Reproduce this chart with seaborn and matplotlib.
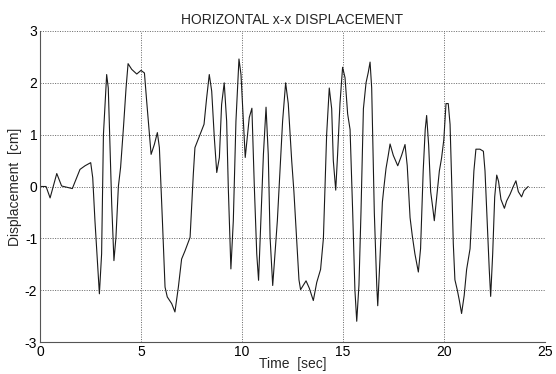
import matplotlib
matplotlib.use("Agg")
import matplotlib.pyplot as plt
import seaborn as sns
import pandas as pd

time_s = [0, 0.30, 0.50, 0.83, 1.07, 1.60, 1.98, 2.23, 2.51, 2.61, 2.72, 2.94, 3.05, 3.14, 3.30, 3.38,
          3.55, 3.66, 3.76, 3.88, 3.99, 4.13, 4.26, 4.36, 4.54, 4.79, 5.0, 5.17, 5.28, 5.50, 5.66, 5.81,
          5.91, 6.06, 6.19, 6.30, 6.52, 6.68, 6.85, 7.01, 7.18, 7.43, 7.59, 7.67, 7.92, 8.12, 8.25, 8.38,
          8.50, 8.63, 8.75, 8.88, 8.99, 9.12, 9.24, 9.32, 9.45, 9.57, 9.70, 9.85, 9.95, 10.07, 10.16,
          10.26, 10.36, 10.49, 10.61, 10.73, 10.82, 10.92, 11.06, 11.19, 11.30, 11.39, 11.52, 11.63,
          11.75, 11.88, 12.01, 12.16, 12.29, 12.46, 12.57, 12.70, 12.82, 12.90, 13.04, 13.17, 13.33,
          13.53, 13.70, 13.89, 14.03, 14.19, 14.32, 14.44, 14.52, 14.64, 14.73, 14.85, 14.98, 15.10,
          15.23, 15.35, 15.48, 15.59, 15.68, 15.79, 15.89, 16.01, 16.14, 16.25, 16.34, 16.42, 16.55,
          16.67, 16.72, 16.83, 16.95, 17.03, 17.13, 17.24, 17.33, 17.49, 17.71, 17.90, 18.07, 18.18,
          18.32, 18.43, 18.56, 18.73, 18.84, 18.97, 19.07, 19.14, 19.24, 19.34, 19.44, 19.52, 19.64,
          19.77, 19.88, 19.99, 20.10, 20.21, 20.30, 20.38, 20.46, 20.54, 20.66, 20.76, 20.87, 21.0,
          21.12, 21.29, 21.38, 21.48, 21.58, 21.78, 21.95, 22.03, 22.14, 22.24, 22.31, 22.41, 22.51,
          22.61, 22.70, 22.82, 22.99, 23.10, 23.27, 23.43, 23.56, 23.68, 23.84, 23.96, 24.17]

disp_cm = [0, 0, -0.22, 0.25, 0.01, -0.04, 0.33, 0.40, 0.46, 0.17, -0.66, -2.07, -1.3, 1.0, 2.16, 1.9,
           -0.34, -1.43, -0.98, 0, 0.37, 1.13, 1.9, 2.37, 2.26, 2.17, 2.24, 2.19, 1.65, 0.62, 0.81, 1.04,
           0.75, -0.66, -1.94, -2.13, -2.26, -2.42, -1.94, -1.40, -1.24, -0.98, 0.24, 0.75, 1.0, 1.2, 1.71, 2.16,
           1.84, 0.94, 0.27, 0.56, 1.58, 2.0, 1.26, 0, -1.59, -0.66, 1.26, 2.46, 2.16, 1.26, 0.56,
           0.94, 1.33, 1.51, 0, -1.3, -1.81, -0.79, 0.62, 1.53, 0.62, -0.98, -1.91, -1.3,
           -0.66, 0.3, 1.26, 2.0, 1.6, 0.5, -0.1, -1.0, -1.8, -1.99, -1.9, -1.82, -1.96,
           -2.2, -1.85, -1.6, -1.0, 1.0, 1.9, 1.5, 0.5, -0.07, 0.6, 1.6, 2.3, 2.1,
           1.4, 1.1, -0.5, -2.0, -2.6, -1.9, -0.5, 1.5, 2.0, 2.2, 2.4, 1.9, -0.5,
           -1.9, -2.3, -1.4, -0.3, 0, 0.35, 0.6, 0.82, 0.6, 0.4, 0.6, 0.81, 0.4,
           -0.6, -0.95, -1.3, -1.65, -1.2, 0.3, 1.1, 1.37, 0.8, -0.1, -0.4, -0.66, -0.2,
           0.3, 0.55, 0.9, 1.6, 1.6, 1.2, 0.1, -1.1, -1.8, -2.0, -2.2, -2.45, -2.1,
           -1.6, -1.2, -0.5, 0.3, 0.72, 0.72, 0.68, 0.3, -0.7, -1.6, -2.12, -1.3, -0.2,
           0.22, 0.1, -0.25, -0.42, -0.28, -0.15, 0, 0.11, -0.1, -0.2, -0.08, 0.0]

x_ticks = [0, 5, 10, 15, 20, 25]
y_ticks = [-3, -2, -1, 0, 1, 2, 3]

df = pd.DataFrame({"t": time_s, "d": disp_cm})

sns.set_style("white")
plt.rcParams["font.family"] = ["Liberation Sans", "DejaVu Sans"]

fig = plt.figure(figsize=(5.56, 3.74), dpi=100)
ax = fig.add_axes([40 / 556, 1 - 342 / 374, 505 / 556, 311 / 374])

sns.lineplot(data=df, x="t", y="d", ax=ax, color="#1a1a1a", linewidth=0.8,
             estimator=None, sort=False)

ax.set_xlim(0, 25)
ax.set_ylim(-3, 3)
ax.set_xticks(x_ticks)
ax.set_yticks(y_ticks)
ax.set_xticklabels([str(v) for v in x_ticks], fontsize=10)
ax.set_yticklabels([str(v) for v in y_ticks], fontsize=10)
ax.tick_params(direction="in", length=3, width=0.6, pad=2, colors="black")

ax.grid(True, linestyle=(0, (1.5, 2)), color="black", linewidth=0.5, alpha=0.8)
for side in ["top", "right"]:
    ax.spines[side].set_visible(False)
for side in ["left", "bottom"]:
    ax.spines[side].set_color("#555555")
    ax.spines[side].set_linewidth(0.8)

ax.set_title("HORIZONTAL x-x DISPLACEMENT", fontsize=10, pad=5)
ax.set_xlabel("Time  [sec]", fontsize=10, labelpad=-1)
ax.set_ylabel("Displacement  [cm]", fontsize=10, labelpad=2)

fig.savefig("out.png", dpi=100, facecolor="white")
